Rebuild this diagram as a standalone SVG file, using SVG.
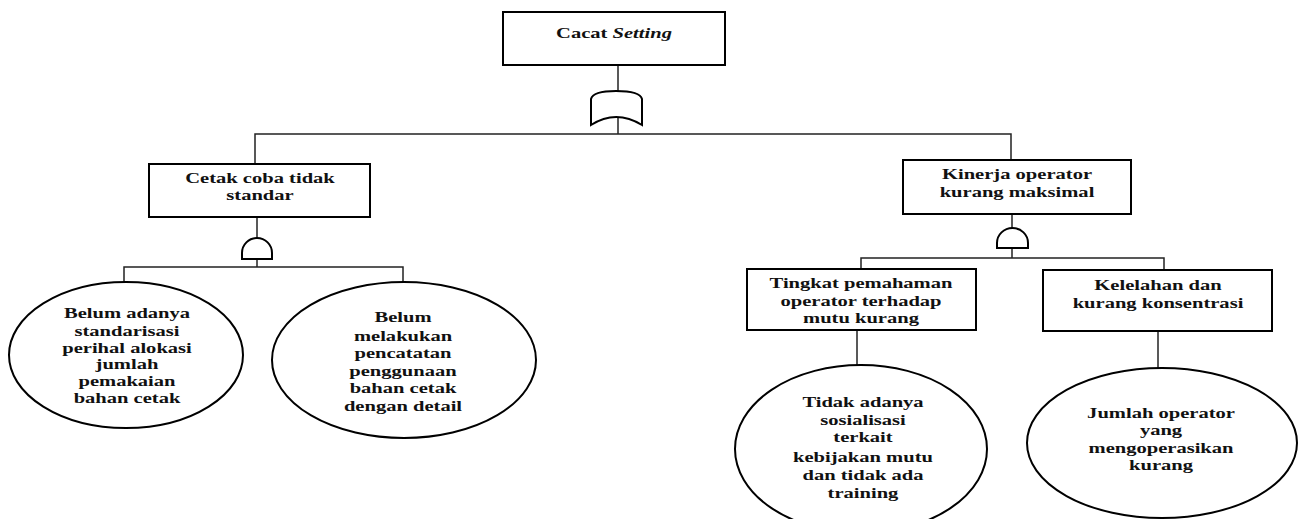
<svg xmlns="http://www.w3.org/2000/svg" width="1304" height="519" viewBox="0 0 1304 519">
<style>
.box{fill:#fff;stroke:#000;stroke-width:2}
.ell{fill:#fff;stroke:#000;stroke-width:2}
.gate{fill:#fff;stroke:#000;stroke-width:2}
.ln{fill:none;stroke:#222;stroke-width:1.5}
.t{font-family:"Liberation Serif","Times New Roman",serif;font-weight:bold;font-size:15px;fill:#111;text-anchor:middle}
</style>
<rect width="1304" height="519" fill="#fff"/>
<g id="connectors">
<path class="ln" d="M618,65 V91"/>
<path class="ln" d="M618,117 V134"/>
<path class="ln" d="M255,164 V134 H1011 V160"/>
<path class="ln" d="M257,217 V240"/>
<path class="ln" d="M257,259 V267"/>
<path class="ln" d="M124,282 V267 H403 V282"/>
<path class="ln" d="M1012,214 V230"/>
<path class="ln" d="M1012,248 V258"/>
<path class="ln" d="M861,269 V258 H1164 V270"/>
<path class="ln" d="M857,330 V365"/>
<path class="ln" d="M1158,331 V368"/>
</g>
<g id="gate-or">
<path class="gate" d="M591,125 L591,99 Q593,91 616,91 Q640,91 642,99 L642,125 Q616,109 591,125 Z"/>
</g>
<g id="gate-and-left">
<path class="gate" d="M242,259 L242,253 A15,15 0 0 1 272,253 L272,259 Z"/>
</g>
<g id="gate-and-right">
<path class="gate" d="M997,248 L997,243 A15.5,15 0 0 1 1028,243 L1028,248 Z"/>
</g>
<g id="cacat-setting">
<rect class="box" x="503" y="12" width="222" height="53"/>
<text class="t" transform="translate(614,0) scale(1.37,1)" x="0" y="38">Cacat <tspan font-style="italic">Setting</tspan></text>
</g>
<g id="cetak-coba">
<rect class="box" x="149" y="164" width="221" height="53"/>
<text class="t" transform="translate(260,0) scale(1.37,1)"><tspan x="0" y="183">Cetak coba tidak</tspan><tspan x="0" y="200">standar</tspan></text>
</g>
<g id="kinerja-operator">
<rect class="box" x="903" y="160" width="228" height="54"/>
<text class="t" transform="translate(1017,0) scale(1.37,1)"><tspan x="0" y="179">Kinerja operator</tspan><tspan x="0" y="197">kurang maksimal</tspan></text>
</g>
<g id="tingkat-pemahaman">
<rect class="box" x="747" y="269" width="229" height="61"/>
<text class="t" transform="translate(861,0) scale(1.37,1)"><tspan x="0" y="288">Tingkat pemahaman</tspan><tspan x="0" y="306">operator terhadap</tspan><tspan x="0" y="323">mutu kurang</tspan></text>
</g>
<g id="kelelahan">
<rect class="box" x="1043" y="270" width="229" height="61"/>
<text class="t" transform="translate(1158,0) scale(1.37,1)"><tspan x="0" y="290">Kelelahan dan</tspan><tspan x="0" y="308">kurang konsentrasi</tspan></text>
</g>
<g id="belum-adanya">
<ellipse class="ell" cx="126" cy="355" rx="117" ry="73"/>
<text class="t" transform="translate(127,0) scale(1.37,1)"><tspan x="0" y="318">Belum adanya</tspan><tspan x="0" y="336">standarisasi</tspan><tspan x="0" y="353">perihal alokasi</tspan><tspan x="0" y="369">jumlah</tspan><tspan x="0" y="386">pemakaian</tspan><tspan x="0" y="403">bahan cetak</tspan></text>
</g>
<g id="belum-melakukan">
<ellipse class="ell" cx="404" cy="360" rx="132" ry="78"/>
<text class="t" transform="translate(403,0) scale(1.37,1)"><tspan x="0" y="322">Belum</tspan><tspan x="0" y="341">melakukan</tspan><tspan x="0" y="358">pencatatan</tspan><tspan x="0" y="376">penggunaan</tspan><tspan x="0" y="393">bahan cetak</tspan><tspan x="0" y="411">dengan detail</tspan></text>
</g>
<g id="tidak-adanya">
<ellipse class="ell" cx="861" cy="449" rx="126" ry="84"/>
<text class="t" transform="translate(863,0) scale(1.37,1)"><tspan x="0" y="407">Tidak adanya</tspan><tspan x="0" y="425">sosialisasi</tspan><tspan x="0" y="442">terkait</tspan><tspan x="0" y="462">kebijakan mutu</tspan><tspan x="0" y="480">dan tidak ada</tspan><tspan x="0" y="498">training</tspan></text>
</g>
<g id="jumlah-operator">
<ellipse class="ell" cx="1162" cy="443" rx="135" ry="75"/>
<text class="t" transform="translate(1161,0) scale(1.37,1)"><tspan x="0" y="418">Jumlah operator</tspan><tspan x="0" y="435">yang</tspan><tspan x="0" y="453">mengoperasikan</tspan><tspan x="0" y="470">kurang</tspan></text>
</g>
</svg>
